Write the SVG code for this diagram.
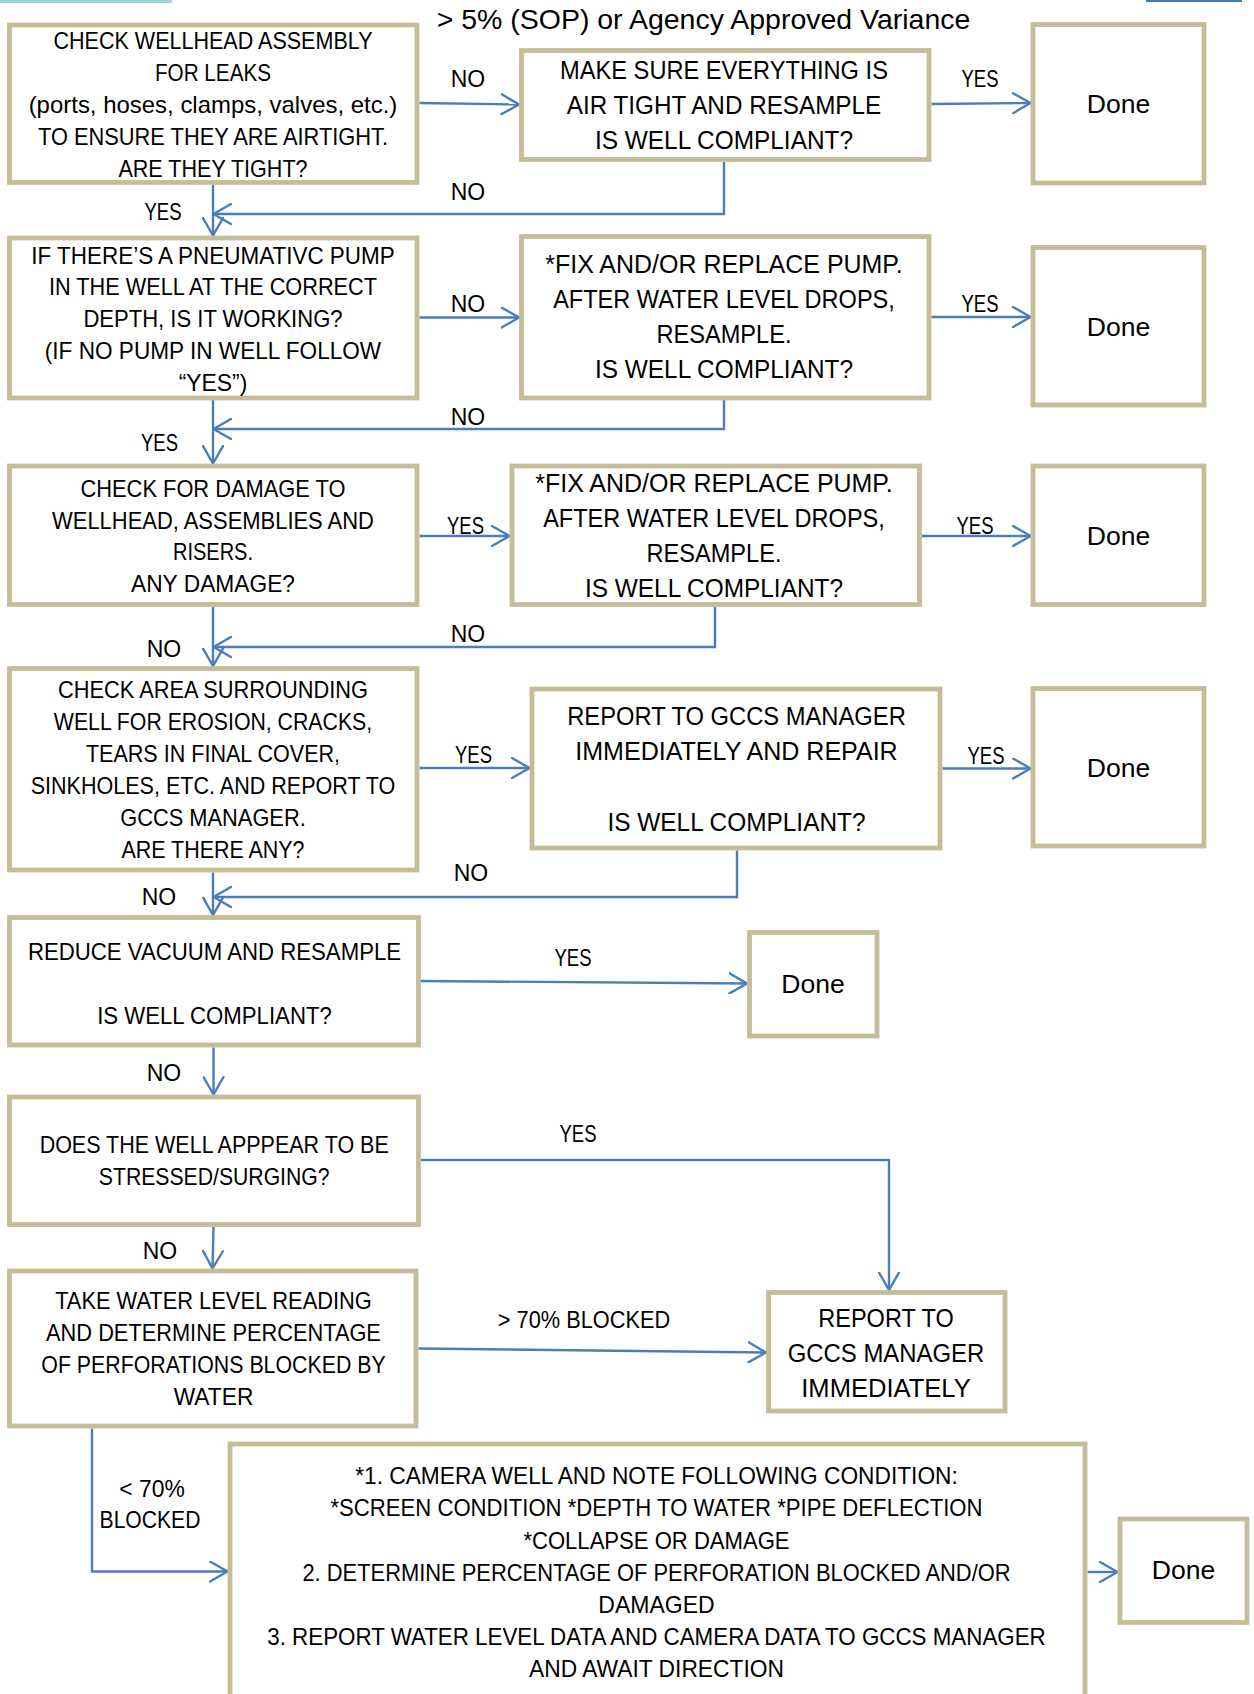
<svg xmlns="http://www.w3.org/2000/svg" width="1254" height="1694" viewBox="0 0 1254 1694">
<style>
.box{fill:#ffffff;stroke:#c4bd97;stroke-width:4.8}
.t{font-family:"Liberation Sans",Arial,sans-serif;font-size:24px;text-anchor:middle;fill:#000000}
.t2{font-size:26.4px}
.ttl{font-size:28.5px}
.conn{fill:none;stroke:#4a7ebb;stroke-width:2.4;marker-end:url(#arr)}
</style>
<defs>
<marker id="arr" viewBox="0 0 21 22" markerWidth="21" markerHeight="22" refX="18.5" refY="11" orient="auto" markerUnits="userSpaceOnUse">
<path d="M1,1 L18.5,11 L1,21" fill="none" stroke="#4a7ebb" stroke-width="2.4" stroke-linejoin="round" stroke-linecap="round"/>
</marker>
</defs>
<rect width="1254" height="1694" fill="#ffffff"/>
<rect x="0" y="0" width="172" height="3" fill="#9fd3da"/>
<rect x="1146" y="0" width="96" height="2" fill="#3a7fc0"/>

<text class="t ttl" x="703.5" y="29" textLength="533.6" lengthAdjust="spacingAndGlyphs">&gt; 5% (SOP) or Agency Approved Variance</text>

<g id="connectors">
<path class="conn" d="M419.5,103 L519,104.5"/>
<path class="conn" d="M931.5,104 L1030.5,103"/>
<path class="conn" d="M724,161.7 L724,214 L213.5,214"/>
<path class="conn" d="M213,185 L213,235.5"/>
<path class="conn" d="M419.5,317.5 L519,317.5"/>
<path class="conn" d="M931.5,317 L1030.5,317"/>
<path class="conn" d="M724,400 L724,429 L213.5,429"/>
<path class="conn" d="M213,400 L213,463.5"/>
<path class="conn" d="M419.5,536 L509.5,536"/>
<path class="conn" d="M922,536 L1030.5,536"/>
<path class="conn" d="M715,607 L715,647 L213.5,647"/>
<path class="conn" d="M213,607 L213,666"/>
<path class="conn" d="M419.5,768 L529.5,768"/>
<path class="conn" d="M942.5,768.5 L1030.5,768.5"/>
<path class="conn" d="M737,850.5 L737,897 L213.5,897"/>
<path class="conn" d="M213,872.5 L213,915"/>
<path class="conn" d="M421,981 L747,983.5"/>
<path class="conn" d="M213.5,1047.5 L213.5,1094.5"/>
<path class="conn" d="M421,1160 L889,1160 L889,1290"/>
<path class="conn" d="M213.5,1227 L212.5,1268.5"/>
<path class="conn" d="M418.5,1348.5 L766,1352.5"/>
<path class="conn" d="M92,1428.5 L92,1571.5 L227.5,1571.5"/>
<path class="conn" d="M1087.5,1572 L1117.5,1572"/>
<text class="t" x="468" y="87.3" textLength="34.5" lengthAdjust="spacingAndGlyphs">NO</text>
<text class="t" x="980" y="87.3" textLength="37" lengthAdjust="spacingAndGlyphs">YES</text>
<text class="t" x="468" y="200" textLength="34.5" lengthAdjust="spacingAndGlyphs">NO</text>
<text class="t" x="163" y="220" textLength="37" lengthAdjust="spacingAndGlyphs">YES</text>
<text class="t" x="468" y="311.7" textLength="34.5" lengthAdjust="spacingAndGlyphs">NO</text>
<text class="t" x="980" y="311.7" textLength="37" lengthAdjust="spacingAndGlyphs">YES</text>
<text class="t" x="468" y="425" textLength="34.5" lengthAdjust="spacingAndGlyphs">NO</text>
<text class="t" x="159.5" y="451" textLength="37" lengthAdjust="spacingAndGlyphs">YES</text>
<text class="t" x="465.5" y="534" textLength="37" lengthAdjust="spacingAndGlyphs">YES</text>
<text class="t" x="975" y="534" textLength="37" lengthAdjust="spacingAndGlyphs">YES</text>
<text class="t" x="468" y="642.3" textLength="34.5" lengthAdjust="spacingAndGlyphs">NO</text>
<text class="t" x="164" y="656.7" textLength="34.5" lengthAdjust="spacingAndGlyphs">NO</text>
<text class="t" x="473.5" y="763.3" textLength="37" lengthAdjust="spacingAndGlyphs">YES</text>
<text class="t" x="986" y="764" textLength="37" lengthAdjust="spacingAndGlyphs">YES</text>
<text class="t" x="471" y="880.7" textLength="34.5" lengthAdjust="spacingAndGlyphs">NO</text>
<text class="t" x="159" y="905" textLength="34.5" lengthAdjust="spacingAndGlyphs">NO</text>
<text class="t" x="573" y="965.7" textLength="37" lengthAdjust="spacingAndGlyphs">YES</text>
<text class="t" x="164" y="1080.7" textLength="34.5" lengthAdjust="spacingAndGlyphs">NO</text>
<text class="t" x="578" y="1141.8" textLength="37" lengthAdjust="spacingAndGlyphs">YES</text>
<text class="t" x="160" y="1258.6" textLength="34.5" lengthAdjust="spacingAndGlyphs">NO</text>
<text class="t" x="584" y="1327.5" textLength="172.3" lengthAdjust="spacingAndGlyphs">&gt; 70% BLOCKED</text>
<text class="t" x="152" y="1496.7" textLength="65.4" lengthAdjust="spacingAndGlyphs">&lt; 70%</text>
<text class="t" x="150" y="1528.3" textLength="100.9" lengthAdjust="spacingAndGlyphs">BLOCKED</text>
</g>

<g id="n1">
<rect class="box" x="9.5" y="25" width="407.5" height="157.5"/>
<text class="t" x="213" y="49.3" textLength="319" lengthAdjust="spacingAndGlyphs">CHECK WELLHEAD ASSEMBLY</text>
<text class="t" x="213" y="81.1" textLength="116.2" lengthAdjust="spacingAndGlyphs">FOR LEAKS</text>
<text class="t" x="213" y="113" textLength="368.7" lengthAdjust="spacingAndGlyphs">(ports, hoses, clamps, valves, etc.)</text>
<text class="t" x="213" y="144.9" textLength="349.9" lengthAdjust="spacingAndGlyphs">TO ENSURE THEY ARE AIRTIGHT.</text>
<text class="t" x="213" y="176.7" textLength="189.1" lengthAdjust="spacingAndGlyphs">ARE THEY TIGHT?</text>
</g>
<g id="n2">
<rect class="box" x="521.5" y="50.5" width="407.5" height="109"/>
<text class="t t2" x="724" y="78.5" textLength="327.8" lengthAdjust="spacingAndGlyphs">MAKE SURE EVERYTHING IS</text>
<text class="t t2" x="724" y="113.7" textLength="314.4" lengthAdjust="spacingAndGlyphs">AIR TIGHT AND RESAMPLE</text>
<text class="t t2" x="724" y="148.9" textLength="258" lengthAdjust="spacingAndGlyphs">IS WELL COMPLIANT?</text>
</g>
<g id="done1">
<rect class="box" x="1033" y="24.5" width="171" height="158.5"/>
<text class="t t2" x="1118.5" y="113.3" textLength="63.5" lengthAdjust="spacingAndGlyphs">Done</text>
</g>

<g id="n3">
<rect class="box" x="9.5" y="238" width="407.5" height="160"/>
<text class="t" x="213" y="263.5" textLength="363.5" lengthAdjust="spacingAndGlyphs">IF THERE’S A PNEUMATIVC PUMP</text>
<text class="t" x="213" y="295.3" textLength="328" lengthAdjust="spacingAndGlyphs">IN THE WELL AT THE CORRECT</text>
<text class="t" x="213" y="327.1" textLength="259.1" lengthAdjust="spacingAndGlyphs">DEPTH, IS IT WORKING?</text>
<text class="t" x="213" y="359" textLength="336.4" lengthAdjust="spacingAndGlyphs">(IF NO PUMP IN WELL FOLLOW</text>
<text class="t" x="213" y="390.8" textLength="68.6" lengthAdjust="spacingAndGlyphs">“YES”)</text>
</g>
<g id="n4">
<rect class="box" x="521.5" y="236.5" width="407.5" height="161.5"/>
<text class="t t2" x="724" y="272.5" textLength="357.5" lengthAdjust="spacingAndGlyphs">*FIX AND/OR REPLACE PUMP.</text>
<text class="t t2" x="724" y="307.7" textLength="341.7" lengthAdjust="spacingAndGlyphs">AFTER WATER LEVEL DROPS,</text>
<text class="t t2" x="724" y="342.9" textLength="135" lengthAdjust="spacingAndGlyphs">RESAMPLE.</text>
<text class="t t2" x="724" y="378.1" textLength="258" lengthAdjust="spacingAndGlyphs">IS WELL COMPLIANT?</text>
</g>
<g id="done2">
<rect class="box" x="1033" y="247.5" width="171" height="157.5"/>
<text class="t t2" x="1118.5" y="336" textLength="63.5" lengthAdjust="spacingAndGlyphs">Done</text>
</g>

<g id="n5">
<rect class="box" x="9.5" y="466" width="407.5" height="138.5"/>
<text class="t" x="213" y="496.7" textLength="265" lengthAdjust="spacingAndGlyphs">CHECK FOR DAMAGE TO</text>
<text class="t" x="213" y="528.5" textLength="321.9" lengthAdjust="spacingAndGlyphs">WELLHEAD, ASSEMBLIES AND</text>
<text class="t" x="213" y="560.4" textLength="79.9" lengthAdjust="spacingAndGlyphs">RISERS.</text>
<text class="t" x="213" y="592.2" textLength="164" lengthAdjust="spacingAndGlyphs">ANY DAMAGE?</text>
</g>
<g id="n6">
<rect class="box" x="512" y="466" width="407.5" height="138.5"/>
<text class="t t2" x="714" y="491.5" textLength="357.5" lengthAdjust="spacingAndGlyphs">*FIX AND/OR REPLACE PUMP.</text>
<text class="t t2" x="714" y="526.7" textLength="341.7" lengthAdjust="spacingAndGlyphs">AFTER WATER LEVEL DROPS,</text>
<text class="t t2" x="714" y="561.9" textLength="135" lengthAdjust="spacingAndGlyphs">RESAMPLE.</text>
<text class="t t2" x="714" y="597.1" textLength="258" lengthAdjust="spacingAndGlyphs">IS WELL COMPLIANT?</text>
</g>
<g id="done3">
<rect class="box" x="1033" y="466" width="171" height="138.5"/>
<text class="t t2" x="1118.5" y="545" textLength="63.5" lengthAdjust="spacingAndGlyphs">Done</text>
</g>

<g id="n7">
<rect class="box" x="9.5" y="668.5" width="407.5" height="201.5"/>
<text class="t" x="213" y="698.3" textLength="309.9" lengthAdjust="spacingAndGlyphs">CHECK AREA SURROUNDING</text>
<text class="t" x="213" y="730.3" textLength="318.4" lengthAdjust="spacingAndGlyphs">WELL FOR EROSION, CRACKS,</text>
<text class="t" x="213" y="762.3" textLength="254.2" lengthAdjust="spacingAndGlyphs">TEARS IN FINAL COVER,</text>
<text class="t" x="213" y="794.3" textLength="364.6" lengthAdjust="spacingAndGlyphs">SINKHOLES, ETC. AND REPORT TO</text>
<text class="t" x="213" y="826.3" textLength="185.5" lengthAdjust="spacingAndGlyphs">GCCS MANAGER.</text>
<text class="t" x="213" y="858.3" textLength="183.1" lengthAdjust="spacingAndGlyphs">ARE THERE ANY?</text>
</g>
<g id="n8">
<rect class="box" x="532" y="689" width="408" height="159"/>
<text class="t t2" x="736.5" y="725" textLength="338.6" lengthAdjust="spacingAndGlyphs">REPORT TO GCCS MANAGER</text>
<text class="t t2" x="736.5" y="760.2" textLength="322.4" lengthAdjust="spacingAndGlyphs">IMMEDIATELY AND REPAIR</text>
<text class="t t2" x="736.5" y="830.6" textLength="258" lengthAdjust="spacingAndGlyphs">IS WELL COMPLIANT?</text>
</g>
<g id="done4">
<rect class="box" x="1033" y="688.5" width="171" height="157.5"/>
<text class="t t2" x="1118.5" y="776.7" textLength="63.5" lengthAdjust="spacingAndGlyphs">Done</text>
</g>

<g id="n9">
<rect class="box" x="9.5" y="917.5" width="409" height="127.5"/>
<text class="t" x="214.5" y="959.5" textLength="373.2" lengthAdjust="spacingAndGlyphs">REDUCE VACUUM AND RESAMPLE</text>
<text class="t" x="214.5" y="1023.5" textLength="234.6" lengthAdjust="spacingAndGlyphs">IS WELL COMPLIANT?</text>
</g>
<g id="done5">
<rect class="box" x="749.5" y="932.5" width="127.5" height="103.5"/>
<text class="t t2" x="813" y="992.5" textLength="63.5" lengthAdjust="spacingAndGlyphs">Done</text>
</g>

<g id="n10">
<rect class="box" x="9.5" y="1097" width="409" height="127.5"/>
<text class="t" x="214.2" y="1153.2" textLength="349.1" lengthAdjust="spacingAndGlyphs">DOES THE WELL APPPEAR TO BE</text>
<text class="t" x="214.2" y="1185.4" textLength="230.7" lengthAdjust="spacingAndGlyphs">STRESSED/SURGING?</text>
</g>
<g id="n11">
<rect class="box" x="9.5" y="1271" width="406.5" height="155"/>
<text class="t" x="213.5" y="1308.6" textLength="316.7" lengthAdjust="spacingAndGlyphs">TAKE WATER LEVEL READING</text>
<text class="t" x="213.5" y="1340.7" textLength="334.8" lengthAdjust="spacingAndGlyphs">AND DETERMINE PERCENTAGE</text>
<text class="t" x="213.5" y="1372.9" textLength="344.3" lengthAdjust="spacingAndGlyphs">OF PERFORATIONS BLOCKED BY</text>
<text class="t" x="213.5" y="1405" textLength="79.7" lengthAdjust="spacingAndGlyphs">WATER</text>
</g>
<g id="n12">
<rect class="box" x="768.5" y="1292.5" width="236.5" height="118.5"/>
<text class="t t2" x="886" y="1326.5" textLength="135.4" lengthAdjust="spacingAndGlyphs">REPORT TO</text>
<text class="t t2" x="886" y="1361.7" textLength="196.6" lengthAdjust="spacingAndGlyphs">GCCS MANAGER</text>
<text class="t t2" x="886" y="1396.9" textLength="169.5" lengthAdjust="spacingAndGlyphs">IMMEDIATELY</text>
</g>

<g id="n13">
<rect class="box" x="230" y="1444" width="855" height="270"/>
<text class="t" x="656.5" y="1484.3" textLength="602.6" lengthAdjust="spacingAndGlyphs">*1. CAMERA WELL AND NOTE FOLLOWING CONDITION:</text>
<text class="t" x="656.5" y="1516.4" textLength="652.1" lengthAdjust="spacingAndGlyphs">*SCREEN CONDITION *DEPTH TO WATER *PIPE DEFLECTION</text>
<text class="t" x="656.5" y="1548.5" textLength="266.2" lengthAdjust="spacingAndGlyphs">*COLLAPSE OR DAMAGE</text>
<text class="t" x="656.5" y="1580.6" textLength="708.1" lengthAdjust="spacingAndGlyphs">2. DETERMINE PERCENTAGE OF PERFORATION BLOCKED AND/OR</text>
<text class="t" x="656.5" y="1612.6" textLength="116.3" lengthAdjust="spacingAndGlyphs">DAMAGED</text>
<text class="t" x="656.5" y="1644.7" textLength="778.5" lengthAdjust="spacingAndGlyphs">3. REPORT WATER LEVEL DATA AND CAMERA DATA TO GCCS MANAGER</text>
<text class="t" x="656.5" y="1676.8" textLength="254.9" lengthAdjust="spacingAndGlyphs">AND AWAIT DIRECTION</text>
</g>
<g id="done6">
<rect class="box" x="1120" y="1519" width="127" height="103.5"/>
<text class="t t2" x="1183.5" y="1579.3" textLength="63.5" lengthAdjust="spacingAndGlyphs">Done</text>
</g>
</svg>
